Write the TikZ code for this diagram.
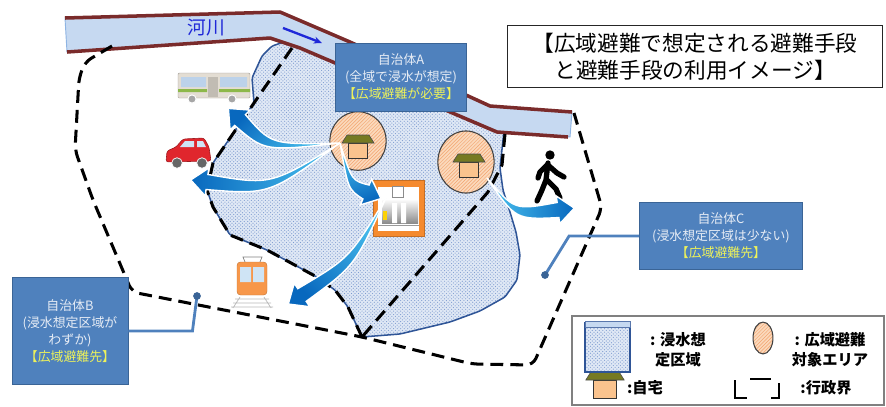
\documentclass[tikz,border=0pt]{standalone}
\usepackage{fontspec}
\setmainfont{Noto Sans CJK JP}
\usetikzlibrary{calc,patterns,arrows.meta}

\definecolor{riverblue}{HTML}{C6D9F1}
\definecolor{riveredge}{HTML}{8EB4E3}
\definecolor{bankred}{HTML}{7A2B2B}
\definecolor{riverlabel}{HTML}{1F28D8}
\definecolor{floodbg}{HTML}{DFE8F5}
\definecolor{flooddot}{HTML}{7F9CD0}
\definecolor{floodline}{HTML}{2F5597}
\definecolor{boxblue}{HTML}{4F81BD}
\definecolor{boxedge}{HTML}{3A6496}
\definecolor{boxtext}{HTML}{E6ECF5}
\definecolor{boxyellow}{HTML}{EEF25A}
\definecolor{areaorange}{HTML}{FBD9BC}
\definecolor{hatchorange}{HTML}{F2A46E}
\definecolor{roofgreen}{HTML}{767A22}
\definecolor{housebody}{HTML}{FAC38E}
\definecolor{evacdark}{HTML}{0868BE}
\definecolor{evaclight}{HTML}{4CC4F0}
\definecolor{shelterorange}{HTML}{F58A2E}
\definecolor{busbody}{HTML}{E3DDD3}
\definecolor{buswin}{HTML}{BCD2EA}
\definecolor{busgreen}{HTML}{8DB84A}
\definecolor{carred}{HTML}{E0262D}
\definecolor{carwin}{HTML}{CFE4F5}
\definecolor{trainorange}{HTML}{F7974A}

\begin{document}
\begin{tikzpicture}[x=0.03cm, y=-0.03cm,
  font=\fontsize{11pt}{14.5pt}\selectfont,
  boundary/.style={line width=2.6pt, dash pattern=on 11pt off 6pt, line join=round},
  bank/.style={bankred, line width=3pt, line join=round},
  flood/.style={preaction={fill=floodbg}, pattern=crosshatch dots, pattern color=flooddot},
  area/.style={draw=black!75, line width=0.9pt, preaction={fill=areaorange},
    pattern=north east lines, pattern color=hatchorange},
  roof/.style={fill=roofgreen, draw=black!70, line width=0.5pt},
  body/.style={fill=housebody, draw=black!80, line width=0.8pt},
  evac/.style={draw=white, line width=1.2pt, top color=evacdark, bottom color=evaclight},
  callbox/.style={fill=boxblue, draw=boxedge, line width=0.8pt, text=boxtext, align=center, inner sep=2pt},
  callline/.style={boxblue, line width=2.4pt},
  legendtext/.style={font=\fontsize{13pt}{17pt}\selectfont\bfseries, align=center}]

  \useasboundingbox (0,0) rectangle (886,406);

  % Flooded area (under the river at the top)
  \path[flood, draw=floodline, line width=1.3pt, rounded corners=2pt]
    (290,40) -- (272,46) -- (262,56) -- (252,78) -- (254,103) -- (232,135) -- (213,163)
    -- (207,190) -- (213,207) -- (230,235) -- (267,250) -- (315,276) -- (335,290)
    -- (348,307) -- (362,337) -- (400,334) -- (450,322) -- (480,311) -- (505,297)
    -- (517,280) -- (520,255) -- (516,232) -- (510,212) -- (503,190) -- (500,168)
    -- (503,140) -- (505,125) -- (350,60) -- cycle;

  % River
  \draw[fill=riverblue, draw=riveredge, line width=0.8pt]
    (65,18) -- (280,12) -- (350,42) -- (490,106) -- (572,112)
    -- (570,137) -- (497,132) -- (300,48) -- (270,38) -- (67,52) -- cycle;
  \draw[bank] (65,18) -- (280,12) -- (350,42) -- (490,106) -- (572,112);
  \draw[bank] (67,52) -- (270,38) -- (300,48) -- (497,132) -- (568,137);

  \node[text=riverlabel, font=\fontsize{16pt}{16pt}\selectfont] (river) at (206,28) {河川};
  \path (283,28) coordinate(flow0) (322,43) coordinate(flow1);
  \draw[-{Stealth[length=7pt,width=6pt]}, riverlabel, line width=2pt] (flow0) -- (flow1);

  % Municipal boundaries
  \draw[boundary, rounded corners=6pt] (112,46) -- (85,62) -- (79,78) -- (75,150) -- (93,200)
    -- (132,292) -- (362,337) -- (472,364) -- (533,365) -- (602,208) -- (574,113);
  \draw[boundary] (292,48) -- (254,103) -- (213,163) -- (207,190) -- (213,207) -- (230,235)
    -- (267,250) -- (315,276) -- (335,290) -- (348,307) -- (362,337);
  \draw[boundary] (505,134) -- (502,165) -- (488,192) -- (362,337);

  % Areas needing wide-area evacuation
  \path[area] (358,141) ellipse (24pt and 25pt);
  \path[area] (466,162) ellipse (24pt and 26.5pt);

  % Houses
  \foreach \hx/\hy/\hs in {358/143/1, 469/162/1, 605/380/1.2}{
    \begin{scope}[shift={(\hx,\hy)}, scale=\hs]
      \draw[body] (-9.5,0) rectangle (9.5,15);
      \draw[roof] (-16,0) -- (-11,-8) -- (11,-8) -- (16,0) -- cycle;
    \end{scope}
  }

  % Shelter
  \draw[fill=shelterorange, draw=shelterorange!80!black, line width=0.5pt] (373,180) rectangle (424,236);
  \fill[white] (378,187) rectangle (419,231);
  \shade[top color=white, bottom color=black!45] (382,199) rectangle (418,223);
  \draw[fill=white, draw=black!45, line width=0.4pt] (392,186) rectangle (403,197);
  \fill[white] (392,203) rectangle (397,223) (401,203) rectangle (406,223);
  \fill[yellow!70!orange] (383,211) rectangle (387,220);
  \draw[black!40, line width=0.5pt] (378,225) -- (419,225);

  % Bus
  \draw[fill=busbody, draw=busbody!70!black, line width=0.4pt, rounded corners=1pt] (178,73) rectangle (250,98);
  \fill[buswin] (181,77) rectangle (206,87) (220,77) rectangle (247,87);
  \fill[busbody!85!black] (208,77) rectangle (218,97);
  \fill[busgreen] (178,89) rectangle (207,92) (219,89) rectangle (250,92);
  \foreach \wx in {192,232}
    \draw[fill=gray!70, draw=white, line width=0.8pt] (\wx,99) circle (3.5pt);

  % Car
  \draw[fill=carred, draw=carred!70!black, line width=0.5pt, rounded corners=2pt]
    (166,162) -- (167,151) -- (176,147) -- (183,139) -- (204,138) -- (209,147) -- (211,161) -- cycle;
  \fill[carwin] (180,147) -- (185,141) -- (194,141) -- (194,147) -- cycle;
  \fill[carwin] (197,141) -- (203,141) -- (206,147) -- (197,147) -- cycle;
  \foreach \wx in {177,202}
    \draw[fill=gray!80!black, draw=white, line width=0.6pt] (\wx,163) circle (4.5pt);

  % Train
  \draw[black!50, line width=0.6pt] (245,262) -- (243,257) -- (262,257) -- (260,262);
  \draw[fill=trainorange, draw=trainorange!80!black, rounded corners=3pt] (237,262) rectangle (267,295);
  \fill[carwin] (240,267) rectangle (251,282) (253,267) rectangle (264,282);
  \draw[gray!55, line width=0.6pt] (235,299) -- (269,299) (233,303) -- (271,303) (231,307) -- (273,307)
    (240,297) -- (233,308) (264,297) -- (271,308);

  % Walker
  \fill (550,155) circle (4pt);
  \draw[line width=4.5pt, line cap=round, line join=round]
    (548,163) -- (546,180) -- (542,190) -- (537,201)
    (547,180) -- (556,189) -- (560,198)
    (547,165) -- (540,172) -- (538,178)
    (549,166) -- (557,173) -- (564,177);

  % Evacuation routes
  %
  % tail, bend, head base
  \path
   (340,143) coordinate(home1)
   (487,178) coordinate(home2)
   (386,198) coordinate(shelter)
   (268,148) coordinate(busbend)  (240,120) coordinate(bushead)
   (270,190) coordinate(carbend)  (207,182) coordinate(carhead)
   (350,185) coordinate(shbend)   (366,192) coordinate(shhead)
   (352,262) coordinate(trainbend) (302,295) coordinate(trainhead)
   (515,215) coordinate(walkbend) (558,210) coordinate(walkhead);

  \foreach \ta/\bd/\hd/\ang in {home1/busbend/bushead/45, home1/carbend/carhead/90,
      home1/shbend/shhead/200, shelter/trainbend/trainhead/135, home2/walkbend/walkhead/270}{
    \path[evac, shading angle=\ang] (\ta) .. controls ($(\bd)!4pt!90:(\hd)$) .. ($(\hd)!6.5pt!-90:(\bd)$)
      -- ($(\hd)!12pt!-90:(\bd)$) -- ($(\hd)!-14pt!(\bd)$) -- ($(\hd)!12pt!90:(\bd)$)
      -- ($(\hd)!6.5pt!90:(\bd)$) .. controls ($(\bd)!4pt!-90:(\hd)$) .. (\ta) -- cycle;
  }

  % Municipality boxes
  \node[callbox, minimum width=112pt, minimum height=58pt] (boxA) at (401,77)
    {自治体A\\(全域で浸水が想定)\\\textcolor{boxyellow}{【広域避難が必要】}};
  \node[callbox, minimum width=99pt, minimum height=91pt] (boxB) at (70,331)
    {自治体B\\(浸水想定区域が\\わずか)\\\textcolor{boxyellow}{【広域避難先】}};
  \node[callbox, minimum width=139pt, minimum height=57pt] (boxC) at (721,236)
    {自治体C\\(浸水想定区域は少ない)\\\textcolor{boxyellow}{【広域避難先】}};

  \path (197,296) coordinate(dotB) (545,275) coordinate(dotC);
  \draw[callline] (boxB.east) -- ++(64,0) -- (dotB);
  \draw[callline] (boxC.west) -- ++(-70,0) -- (dotC);
  \fill[boxedge] (dotB) circle (3.3pt) (dotC) circle (3.3pt);

  % Title
  \node[draw=black!85, line width=1.2pt, minimum width=320pt, minimum height=53pt, align=center,
    font=\fontsize{18.5pt}{23pt}\selectfont] (title) at (695,56.5)
    {【広域避難で想定される避難手段\\と避難手段の利用イメージ】};

  % Legend
  \draw[black!50, line width=1pt] (572,316) rectangle (884,405);
  \path[flood, draw=floodline, line width=1.3pt] (585,323) rectangle (630,372);
  \draw[fill=riverblue, draw=floodline!80, line width=0.8pt] (585,321) rectangle (630,327);
  \path[area] (763,338) ellipse (8.5pt and 13.6pt);
  \draw[line width=2.4pt] (735,380) -- (735,398) -- (747,398) (750,379) -- (771,379)
    (771,398) -- (779,398) -- (779,383);

  \node[legendtext] (lflood) at (678,350) {: 浸水想\\定区域};
  \node[legendtext] (larea) at (830,350) {: 広域避難\\対象エリア};
  \node[legendtext] (lhome) at (645,388) {:自宅};
  \node[legendtext] (lborder) at (826,388) {:行政界};
\end{tikzpicture}
\end{document}
